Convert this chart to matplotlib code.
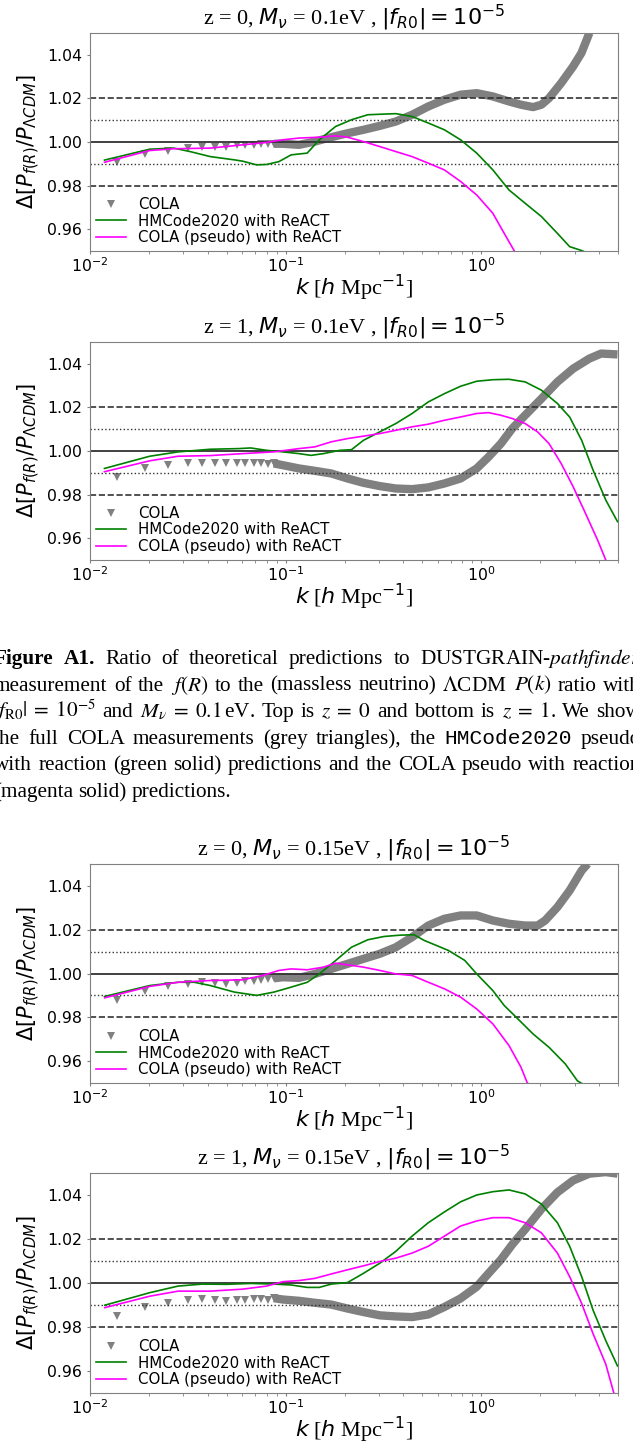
"""
Ratio of f(R) to LCDM power spectra, four panels plus the A1 caption,
redrawn as one 633x1443 page cut-out.
"""

import matplotlib
matplotlib.use("Agg")
import matplotlib.pyplot as plt

# ─── Page geometry (pixels, dpi 100) ─────────────────────────────────────────
W, H, DPI = 633, 1443, 100

# ─── Style ───────────────────────────────────────────────────────────────────
GREY = "#808080"
GREEN = "#008000"
MAGENTA = "#ff00ff"
REFLINE = "#333333"
SPINE = "#808080"

# ─── Data ────────────────────────────────────────────────────────────────────
# COLA low-k (discrete triangles), same k bins in all panels
COLA_LOW_K = [0.0138, 0.0192, 0.0250, 0.0316, 0.0374, 0.0437, 0.0498,
              0.0561, 0.0622, 0.0686, 0.0746, 0.0810, 0.0870]

# panel 1: z = 0, M_nu = 0.1 eV
P1_LOW = [0.9906, 0.9946, 0.9961, 0.9972, 0.9979, 0.9979, 0.9979,
          0.9984, 0.9987, 0.9987, 0.9989, 0.9991, 0.9992]
P1_BAND_K = [0.087, 0.0967, 0.117, 0.141, 0.171, 0.207, 0.25, 0.303, 0.366,
             0.443, 0.536, 0.648, 0.784, 0.948, 1.146, 1.386, 1.596, 1.84,
             2.03, 2.22, 2.56, 2.95, 3.25, 3.57]
P1_BAND_V = [0.9992, 0.9992, 0.9987, 1.0002, 1.0022, 1.0040, 1.0056, 1.0074,
             1.0094, 1.0125, 1.0163, 1.0194, 1.0217, 1.0224, 1.0209, 1.0186,
             1.0171, 1.0160, 1.0171, 1.0201, 1.0270, 1.0347, 1.0408, 1.0500]
P1_GREEN_K = [0.01186, 0.0202, 0.0268, 0.0325, 0.0412, 0.0548, 0.0603, 0.0711,
              0.080, 0.0924, 0.1067, 0.1289, 0.1486, 0.18, 0.217, 0.263, 0.318,
              0.366, 0.443, 0.536, 0.648, 0.784, 0.948, 1.146, 1.386, 1.676,
              2.03, 2.45, 2.83, 3.26, 3.5]
P1_GREEN_V = [0.9917, 0.9967, 0.9972, 0.9956, 0.9933, 0.9918, 0.9912, 0.9895,
              0.9897, 0.9910, 0.9941, 0.9949, 1.0010, 1.0071, 1.0102, 1.0125,
              1.0128, 1.0130, 1.0117, 1.0087, 1.0056, 1.0010, 0.9949, 0.9872,
              0.9780, 0.9719, 0.9658, 0.9581, 0.9520, 0.9502, 0.9490]
P1_MAG_K = [0.01186, 0.0202, 0.0268, 0.0412, 0.0603, 0.080, 0.0967, 0.1169,
            0.1486, 0.18, 0.207, 0.25, 0.303, 0.366, 0.443, 0.536, 0.648,
            0.784, 0.948, 1.146, 1.31, 1.476, 1.55]
P1_MAG_V = [0.9907, 0.9961, 0.9969, 0.9972, 0.9987, 0.9998, 1.0010, 1.0018,
            1.0022, 1.0028, 1.0022, 1.0002, 0.9979, 0.9956, 0.9933, 0.9903,
            0.9872, 0.9819, 0.9757, 0.9673, 0.9581, 0.9500, 0.9480]

# panel 2: z = 1, M_nu = 0.1 eV
P2_LOW = [0.9882, 0.9920, 0.9935, 0.9946, 0.9947, 0.9947, 0.9946,
          0.9946, 0.9947, 0.9946, 0.9943, 0.9940, 0.9943]
P2_BAND_K = [0.087, 0.0967, 0.117, 0.141, 0.171, 0.207, 0.25, 0.303, 0.366,
             0.443, 0.536, 0.648, 0.784, 0.948, 1.09, 1.26, 1.44, 1.676, 2.03,
             2.45, 2.95, 3.57, 4.1, 4.97]
P2_BAND_V = [0.9943, 0.9935, 0.9920, 0.9909, 0.9897, 0.9874, 0.9854, 0.9839,
             0.9828, 0.9825, 0.9833, 0.9851, 0.9874, 0.9920, 0.9973, 1.0034,
             1.0103, 1.0164, 1.0240, 1.0317, 1.0378, 1.0424, 1.0447, 1.0443]
P2_GREEN_K = [0.01186, 0.0202, 0.0282, 0.0412, 0.0575, 0.0663, 0.080, 0.0967,
              0.117, 0.135, 0.156, 0.189, 0.217, 0.25, 0.303, 0.366, 0.443,
              0.536, 0.648, 0.784, 0.948, 1.146, 1.386, 1.676, 2.03, 2.45,
              2.83, 3.26, 3.73, 4.33, 4.97]
P2_GREEN_V = [0.9920, 0.9976, 0.9996, 1.0008, 1.0011, 1.0014, 1.0003, 0.9996,
              0.9988, 0.9980, 0.9988, 1.0003, 1.0006, 1.0049, 1.0088, 1.0126,
              1.0172, 1.0225, 1.0263, 1.0297, 1.0320, 1.0327, 1.0329, 1.0317,
              1.0279, 1.0218, 1.0156, 1.0049, 0.9912, 0.9775, 0.9676]
P2_MAG_K = [0.01186, 0.0202, 0.0282, 0.0412, 0.0603, 0.087, 0.117, 0.141,
            0.171, 0.207, 0.25, 0.303, 0.366, 0.443, 0.536, 0.648, 0.784,
            0.948, 1.09, 1.26, 1.44, 1.676, 1.94, 2.22, 2.56, 2.95, 3.41,
            3.93, 4.33, 4.5]
P2_MAG_V = [0.9905, 0.9955, 0.9976, 0.9979, 0.9988, 0.9996, 1.0011, 1.0019,
            1.0042, 1.0057, 1.0068, 1.0080, 1.0095, 1.0111, 1.0123, 1.0141,
            1.0156, 1.0172, 1.0176, 1.0164, 1.0149, 1.0126, 1.0088, 1.0034,
            0.9943, 0.9836, 0.9714, 0.9592, 0.9500, 0.9470]

# panel 3: z = 0, M_nu = 0.15 eV
P3_LOW = [0.9877, 0.9919, 0.9941, 0.9953, 0.9960, 0.9956, 0.9953,
          0.9957, 0.9965, 0.9968, 0.9970, 0.9974, 0.9978]
P3_BAND_K = [0.087, 0.0967, 0.117, 0.141, 0.171, 0.207, 0.25, 0.303, 0.366,
             0.443, 0.536, 0.648, 0.784, 0.948, 1.146, 1.386, 1.676, 1.94,
             2.12, 2.45, 2.83, 3.26, 3.5]
P3_BAND_V = [0.9978, 0.9983, 0.9980, 0.9998, 1.0021, 1.0044, 1.0067, 1.0090,
             1.0120, 1.0166, 1.0219, 1.0250, 1.0265, 1.0265, 1.0242, 1.0227,
             1.0219, 1.0219, 1.0242, 1.0303, 1.0379, 1.0470, 1.0501]
P3_GREEN_K = [0.01186, 0.0202, 0.0282, 0.0341, 0.0412, 0.0548, 0.0711, 0.087,
              0.107, 0.129, 0.1486, 0.18, 0.217, 0.263, 0.318, 0.384, 0.453,
              0.511, 0.59, 0.68, 0.823, 0.948, 1.146, 1.31, 1.51, 1.84, 2.22,
              2.69, 3.1, 3.26, 3.5]
P3_GREEN_V = [0.9895, 0.9945, 0.9960, 0.9960, 0.9945, 0.9915, 0.9900, 0.9915,
              0.9938, 0.9960, 0.9998, 1.0059, 1.0120, 1.0154, 1.0169, 1.0175,
              1.0177, 1.0151, 1.0128, 1.0105, 1.0060, 0.9998, 0.9922, 0.9854,
              0.9800, 0.9724, 0.9663, 0.9587, 0.9510, 0.9498, 0.9490]
P3_MAG_K = [0.0119, 0.0202, 0.0282, 0.0412, 0.0603, 0.0763, 0.0924, 0.1067,
            0.129, 0.156, 0.18, 0.217, 0.25, 0.303, 0.366, 0.443, 0.536,
            0.648, 0.784, 0.948, 1.146, 1.386, 1.596, 1.714, 1.8]
P3_MAG_V = [0.9889, 0.9941, 0.9960, 0.9968, 0.9971, 0.9991, 1.0014, 1.0021,
            1.0017, 1.0029, 1.0047, 1.0037, 1.0029, 1.0014, 0.9998, 0.9991,
            0.9960, 0.9930, 0.9892, 0.9838, 0.9770, 0.9671, 0.9572, 0.9503,
            0.9480]

# panel 4: z = 1, M_nu = 0.15 eV
P4_LOW = [0.9848, 0.9891, 0.9907, 0.9922, 0.9928, 0.9922, 0.9919,
          0.9925, 0.9925, 0.9926, 0.9926, 0.9925, 0.9931]
P4_BAND_K = [0.087, 0.0967, 0.117, 0.141, 0.171, 0.207, 0.25, 0.303, 0.366,
             0.443, 0.536, 0.648, 0.784, 0.948, 1.09, 1.26, 1.44, 1.676, 2.03,
             2.45, 2.95, 3.57, 4.33, 4.97]
P4_BAND_V = [0.9931, 0.9925, 0.9919, 0.9910, 0.9902, 0.9884, 0.9868, 0.9853,
             0.9848, 0.9845, 0.9857, 0.9891, 0.9930, 0.9983, 1.0044, 1.0106,
             1.0175, 1.0244, 1.0336, 1.0412, 1.0466, 1.0497, 1.0504, 1.0497]
P4_GREEN_K = [0.0119, 0.0202, 0.0282, 0.0374, 0.0498, 0.0663, 0.087, 0.1067,
              0.129, 0.1486, 0.171, 0.207, 0.25, 0.303, 0.366, 0.443, 0.536,
              0.648, 0.784, 0.948, 1.146, 1.386, 1.676, 2.03, 2.45, 2.83,
              3.26, 3.73, 4.33, 4.97]
P4_GREEN_V = [0.9899, 0.9956, 0.9986, 0.9995, 0.9994, 0.9998, 0.9995, 0.9991,
              0.9980, 0.9980, 0.9995, 1.0002, 1.0044, 1.0090, 1.0144, 1.0213,
              1.0274, 1.0323, 1.0369, 1.0400, 1.0415, 1.0423, 1.0405, 1.0359,
              1.0274, 1.0167, 1.0029, 0.9876, 0.9738, 0.9623]
P4_MAG_K = [0.0119, 0.0202, 0.0282, 0.0412, 0.0603, 0.080, 0.0967, 0.117,
            0.141, 0.171, 0.207, 0.25, 0.303, 0.366, 0.443, 0.536, 0.648,
            0.784, 0.948, 1.146, 1.386, 1.676, 2.03, 2.45, 2.83, 3.26, 3.73,
            4.33, 4.76, 5.0]
P4_MAG_V = [0.9888, 0.9940, 0.9963, 0.9963, 0.9972, 0.9986, 1.0006, 1.0011,
            1.0021, 1.0041, 1.0060, 1.0078, 1.0098, 1.0113, 1.0136, 1.0167,
            1.0213, 1.0259, 1.0282, 1.0297, 1.0297, 1.0274, 1.0228, 1.0136,
            1.0029, 0.9907, 0.9769, 0.9631, 0.9500, 0.9460]

TITLES = [
    r"z = 0, $M_\nu$ = 0.1eV , $|f_{R0}| = 10^{-5}$",
    r"z = 1, $M_\nu$ = 0.1eV , $|f_{R0}| = 10^{-5}$",
    r"z = 0, $M_\nu$ = 0.15eV , $|f_{R0}| = 10^{-5}$",
    r"z = 1, $M_\nu$ = 0.15eV , $|f_{R0}| = 10^{-5}$",
]
YTICKS = [0.96, 0.98, 1.00, 1.02, 1.04]
LEGEND_LABELS = ["COLA", "HMCode2020 with ReACT", "COLA (pseudo) with ReACT"]

# caption lines: plain words, or (word, style) with style bf / tt
CAPTION = [
    [("Figure", "bf"), ("A1.", "bf"), "Ratio", "of", "theoretical",
     "predictions", "to", r"DUSTGRAIN-$\mathit{pathfinder}$"],
    ["measurement", "of", "the", r"$f(R)$", "to", "the", "(massless",
     "neutrino)", r"$\Lambda$CDM", r"$P(k)$", "ratio", "with"],
    [r"$|f_{\rm R0}|\;=\;10^{-5}$", "and", r"$M_\nu\;=\;0.1\,$eV.", "Top",
     "is", r"$z\;=\;0$", "and", "bottom", "is", r"$z\;=\;1$.", "We", "show"],
    ["the", "full", "COLA", "measurements", "(grey", "triangles),", "the",
     ("HMCode2020", "tt"), "pseudo"],
    ["with", "reaction", "(green", "solid)", "predictions", "and", "the",
     "COLA", "pseudo", "with", "reaction"],
    ["(magenta", "solid)", "predictions."],
]

# axes boxes in pixels: (top, bottom)
PANEL_PX = [(33, 251), (342, 560), (864, 1083), (1173, 1393)]
AX_LEFT, AX_RIGHT = 90, 618


def draw_panel(ax, title, low_v, band_k, band_v, gk, gv, mk, mv):
    ax.plot(band_k, band_v, color=GREY, lw=6, solid_capstyle="butt",
            solid_joinstyle="round", zorder=2)
    ax.plot(COLA_LOW_K, low_v, "v", color=GREY, ms=5.5, mew=0,
            label=LEGEND_LABELS[0], zorder=2)
    for y, ls, lw in [(1.00, "-", 1.3), (1.02, "--", 1.2), (0.98, "--", 1.2),
                      (1.01, ":", 1.0), (0.99, ":", 1.0)]:
        ax.axhline(y, color=REFLINE, ls=ls, lw=lw, zorder=2.5)
    ax.plot(gk, gv, color=GREEN, lw=1.2, label=LEGEND_LABELS[1], zorder=3)
    ax.plot(mk, mv, color=MAGENTA, lw=1.2, label=LEGEND_LABELS[2], zorder=3)

    ax.set_xscale("log")
    ax.set_xlim(1e-2, 5)
    ax.set_ylim(0.95, 1.05)
    ax.set_yticks(YTICKS)
    ax.set_yticklabels([f"{t:.2f}" for t in YTICKS])
    ax.tick_params(labelsize=11.3, color=SPINE, length=2.5)
    ax.tick_params(axis="x", pad=1.5)
    ax.tick_params(axis="y", pad=3)
    ax.tick_params(which="minor", color=SPINE, length=1.8)
    for sp in ax.spines.values():
        sp.set_color(SPINE)

    ax.set_title(title, fontsize=16, family="Liberation Serif", pad=3)
    ax.set_xlabel(r"$k$ [$h$ Mpc$^{-1}$]", fontsize=16,
                  family="Liberation Serif", labelpad=-1.5)
    ax.set_ylabel(r"$\Delta[P_{f(R)}/P_{\Lambda CDM}]$", fontsize=15,
                  labelpad=4)
    ax.legend(loc="lower left", frameon=False, fontsize=10.8,
              borderaxespad=0.0, labelspacing=0.1, handletextpad=0.8)


def caption_line(fig, renderer, words, y_px, x0=-6.0, x1=641.0,
                 justify=True, fs=15.3):
    texts = []
    for w in words:
        s, style = (w if isinstance(w, tuple) else (w, "rm"))
        kw = dict(fontsize=fs, va="baseline", ha="left",
                  math_fontfamily="stix", family="Liberation Serif")
        if style == "bf":
            kw["weight"] = "bold"
        elif style == "tt":
            kw["family"] = "Liberation Mono"
        texts.append(fig.text(0, 1 - y_px / H, s, **kw))
    widths = [t.get_window_extent(renderer).width for t in texts]
    if justify:
        gap = (x1 - x0 - sum(widths)) / (len(texts) - 1)
    else:
        gap = 0.25 * fs * DPI / 72
    x = x0
    for t, w in zip(texts, widths):
        t.set_x(x / W)
        x += w + gap


def main():
    fig = plt.figure(figsize=(W / DPI, H / DPI), dpi=DPI)
    fig.patch.set_facecolor("white")

    panels = [
        (P1_LOW, P1_BAND_K, P1_BAND_V, P1_GREEN_K, P1_GREEN_V, P1_MAG_K, P1_MAG_V),
        (P2_LOW, P2_BAND_K, P2_BAND_V, P2_GREEN_K, P2_GREEN_V, P2_MAG_K, P2_MAG_V),
        (P3_LOW, P3_BAND_K, P3_BAND_V, P3_GREEN_K, P3_GREEN_V, P3_MAG_K, P3_MAG_V),
        (P4_LOW, P4_BAND_K, P4_BAND_V, P4_GREEN_K, P4_GREEN_V, P4_MAG_K, P4_MAG_V),
    ]
    for (top, bottom), title, data in zip(PANEL_PX, TITLES, panels):
        rect = [AX_LEFT / W, 1 - bottom / H, (AX_RIGHT - AX_LEFT) / W,
                (bottom - top) / H]
        ax = fig.add_axes(rect)
        draw_panel(ax, title, *data)

    # caption between the two pairs of panels
    renderer = fig.canvas.get_renderer()
    for i, words in enumerate(CAPTION):
        caption_line(fig, renderer, words, 664 + 26.6 * i,
                     justify=(i < len(CAPTION) - 1))

    fig.savefig("out.png", dpi=DPI)
    plt.close(fig)


if __name__ == "__main__":
    main()
